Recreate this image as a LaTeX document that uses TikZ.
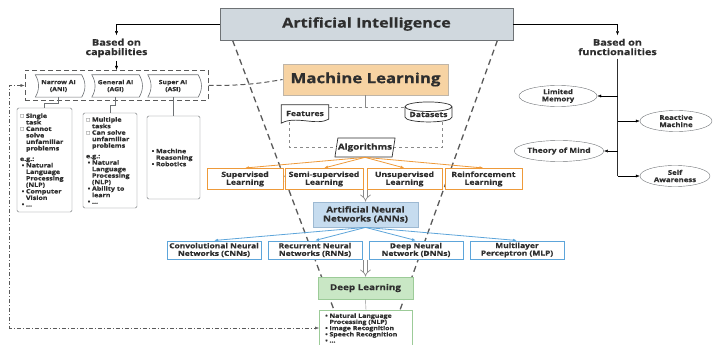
\documentclass[tikz,border=0pt]{standalone}
\usepackage{fontspec}
\setmainfont{Open Sans}[FakeStretch=1.2, BoldFeatures={FakeBold=0.6}]
\newfontfamily\symfont{DejaVu Sans}
\usetikzlibrary{shapes.geometric,arrows.meta,backgrounds}
\definecolor{aifill}{HTML}{D0D8DE}
\definecolor{aibord}{HTML}{6E7275}
\definecolor{mlfill}{HTML}{F7D3A3}
\definecolor{mlbord}{HTML}{BFB5A8}
\definecolor{orln}{HTML}{EE9A3A}
\definecolor{annfill}{HTML}{C6DCEF}
\definecolor{annbord}{HTML}{9DB9D2}
\definecolor{blln}{HTML}{5DA5DA}
\definecolor{dlfill}{HTML}{C9E7C5}
\definecolor{dlbord}{HTML}{9CCB98}
\definecolor{txt}{HTML}{2E2E2E}
\definecolor{fnl}{HTML}{5A5A5A}
\definecolor{lgray}{HTML}{8A8A8A}
\newcommand{\sqbox}{\makebox[6pt][l]{{\symfont\fontsize{4.5}{5}\selectfont □}}}
\newcommand{\bull}{\makebox[6pt][c]{\textbullet}}
\newcommand{\ind}{\hspace*{6pt}}
\newcommand{\fsz}[2]{\fontsize{#1}{#2}\selectfont}
\begin{document}
\begin{tikzpicture}[x=1pt, y=-1pt, font=\bfseries, text=txt,
    arr/.style={-{Latex[length=4pt,width=3pt]}},
    lrn/.style={draw=orln, line width=1pt, fill=white, minimum width=#1, minimum height=21, inner sep=1pt, align=center, font=\bfseries\fsz{7.2}{7.8}},
    nn/.style={draw=blln, line width=1pt, fill=white, minimum width=94, minimum height=18, inner sep=1pt, align=center, font=\bfseries\fsz{7}{7.6}},
    listbox/.style={draw=aibord, rounded corners=1.5pt, fill=white, text width=#1, inner xsep=3pt, inner ysep=2pt, align=left, font=\bfseries\fsz{5.9}{6.5}},
    scrl/.style={minimum width=#1, minimum height=22, inner sep=0pt, align=center, font=\bfseries\fsz{5.7}{7}},
    ell/.style={ellipse, draw=aibord, minimum width=#1, minimum height=21, inner sep=0pt, align=center, font=\bfseries\fsz{6.5}{7.2}},
    funnel/.style={draw=fnl, line width=1.3pt, dash pattern=on 6pt off 4pt},
    hollow/.style={draw=lgray, double=white, double distance=3pt, line width=0.7pt, -{Implies[length=5pt, width=9pt]}}]
    \useasboundingbox (0,0) rectangle (713,345);

    \node[draw=aibord, fill=aifill, line width=0.8pt, minimum width=293, minimum height=32, font=\bfseries\fsz{13.5}{16}] (ai) at (366.5,24) {Artificial Intelligence};

    \node[align=center, font=\bfseries\fsz{9}{9.5}] (capt) at (116.5,48) {Based on\\capabilities};
    \node[draw=fnl, line width=1pt, dash pattern=on 5pt off 3pt, minimum width=183, minimum height=30] (capbox) at (116.5,85.5) {};
    \node[scrl=46] (ani) at (58.5,86) {Narrow AI\\(ANI)};
    \node[scrl=47] (agi) at (115.5,86) {General AI\\(AGI)};
    \node[scrl=50] (asi) at (173,86) {Super AI\\(ASI)};
    \foreach \s in {ani,agi,asi}
        \draw[aibord, line width=0.6pt] (\s.north west) to[bend left=30] (\s.south west) -- (\s.south east) to[bend right=30] (\s.north east) -- cycle;

    \node[listbox=49, minimum height=104] (anibox) at (44.5,160) {\sqbox Single\\ \ind task\\ \sqbox Cannot\\ \ind solve\\ \ind unfamiliar\\ \ind problems\\[4pt] e.g.:\\ \bull Natural\\ \ind Language\\ \ind Processing\\ \ind (NLP)\\ \bull Computer\\ \ind Vision\\ \bull ...};
    \node[listbox=48, minimum height=95] (agibox) at (110,160.5) {\sqbox Multiple\\ \ind tasks\\ \sqbox Can solve\\ \ind unfamiliar\\ \ind problems\\[4pt] e.g.:\\ \bull Natural\\ \ind Language\\ \ind Processing\\ \ind (NLP)\\ \bull Ability to\\ \ind learn\\ \bull ...};
    \node[listbox=47, minimum height=83] (asibox) at (173.5,157.5) {\bull Machine\\ \ind Reasoning\\ \bull Robotics};

    \draw[aibord] (ani.south) -- ++(0,6) -| (anibox.north);
    \draw[aibord] (agi.south) -- ++(0,8) -| (agibox.north);
    \draw[aibord] (asi.south) -- ++(0,10) -| (asibox.north);

    \node[draw=mlbord, fill=mlfill, line width=0.8pt, minimum width=165, minimum height=31, font=\bfseries\fsz{14}{16}] (ml) at (365.5,79.5) {Machine Learning};
    \node[minimum width=47, minimum height=17, inner sep=0pt, font=\bfseries\fsz{7.2}{8}] (feat) at (305,113.5) {Features};
    \draw[txt, line width=0.7pt] (feat.north west) -- (feat.north east) -- ([yshift=3]feat.south east) .. controls ([xshift=-12,yshift=-4]feat.south east) and ([xshift=14,yshift=7]feat.south west) .. ([yshift=-1]feat.south west) -- cycle;
    \node[cylinder, shape border rotate=90, aspect=0.25, draw=txt, line width=0.7pt, minimum width=47, minimum height=20, inner sep=0pt, font=\bfseries\fsz{7.2}{8}] (ds) at (428.5,114.5) {Datasets};
    \node[trapezium, trapezium left angle=70, trapezium right angle=110, trapezium stretches=true, draw=txt, line width=0.7pt, fill=white, minimum width=60, minimum height=19, inner sep=0pt, font=\bfseries\fsz{8.2}{9}] (alg) at (365,147.5) {Algorithms};

    \draw[lgray] (ml.south) -- ++(0,12) coordinate (mlj);
    \draw[lgray, dashed] (feat.east |- mlj) -- (ds.west |- mlj);
    \draw[lgray, dashed] ([xshift=8]feat.south west) |- (alg.west);
    \draw[lgray, dashed] ([xshift=14]ds.south) |- (alg.east);

    \node[lrn=76] (sup) at (245,179) {Supervised\\Learning};
    \node[lrn=78] (semi) at (324,179) {Semi-supervised\\Learning};
    \node[lrn=75] (unsup) at (404.5,179) {Unsupervised\\Learning};
    \node[lrn=77] (reinf) at (483.5,179) {Reinforcement\\Learning};
    \foreach \b in {sup,semi,unsup,reinf}
        \draw[orln, line width=0.8pt, arr] (alg.south) -- (\b.north);

    \node[draw=annbord, fill=annfill, line width=0.8pt, minimum width=105, minimum height=25, inner sep=1pt, align=center, font=\bfseries\fsz{8.2}{9}] (ann) at (365.5,214.5) {Artificial Neural\\Networks (ANNs)};
    \draw[hollow] (ann.north |- semi.south) -- (ann.north);

    \node[nn] (cnn) at (214,250) {Convolutional Neural\\Networks (CNNs)};
    \node[nn] (rnn) at (315,250) {Recurrent Neural\\Networks (RNNs)};
    \node[nn] (dnn) at (416,250) {Deep Neural\\Network (DNNs)};
    \node[nn] (mlp) at (517,250) {Multilayer\\Perceptron (MLP)};
    \foreach \b in {cnn,rnn,dnn,mlp}
        \draw[blln, line width=0.8pt, arr] (ann.south) -- (\b.north);

    \node[draw=dlbord, fill=dlfill, line width=0.8pt, minimum width=95, minimum height=22, font=\bfseries\fsz{8.2}{9}] (dl) at (365.5,288) {Deep Learning};
    \draw[hollow] (dl.north |- rnn.south) -- (dl.north);
    \node[draw=dlbord, line width=1pt, fill=white, anchor=north, text width=85, minimum height=35, inner xsep=4pt, inner ysep=1.5pt, align=left, font=\bfseries\fsz{5.8}{6.2}] (app) at (366,310) {\bull Natural Language\\ \ind Processing (NLP)\\ \bull Image Recognition\\ \bull Speech Recognition\\ \bull ...};
    \draw[lgray] (dl.south) -- (app.north);

    \draw[arr] (ai.west) -| (capt.north);
    \draw[arr] (capt.south) -- (capbox.north);
    \draw[fnl, line width=1pt, dash pattern=on 5pt off 3pt] (capbox.east) to[out=0, in=190] (ml.west);
    \draw[fnl, dash pattern=on 4pt off 2pt on 1pt off 2pt, {Latex[length=4pt,width=3pt]}-{Latex[length=4pt,width=3pt]}] (capbox.west) -- ++(-15,0) |- (app.west);

    \node[align=center, font=\bfseries\fsz{9}{9.5}] (func) at (617.5,47) {Based on\\functionalities};
    \node[ell=78] (lm) at (558,96) {Limited\\Memory};
    \node[ell=72] (rm) at (676,121) {Reactive\\Machine};
    \node[ell=80, font=\bfseries\fsz{7}{8}] (tom) at (559,151) {Theory of Mind};
    \node[ell=70] (sa) at (675,176) {Self\\Awareness};
    \draw[arr] (ai.east) -| (func.north);
    \draw[txt, line width=0.8pt] (func.south) -- (func.south |- sa.west);
    \draw[arr] (func.south |- lm.east) -- (lm.east);
    \draw[arr] (func.south |- rm.west) -- (rm.west);
    \draw[arr] (func.south |- tom.east) -- (tom.east);
    \draw[arr] (func.south |- sa.west) -- (sa.west);

    \begin{scope}[on background layer]
        \draw[funnel] ([xshift=13]ai.south west) -- ([xshift=15]app.north west);
        \draw[funnel] ([xshift=-16]ai.south east) -- ([xshift=-13]app.north east);
    \end{scope}
\end{tikzpicture}
\end{document}
